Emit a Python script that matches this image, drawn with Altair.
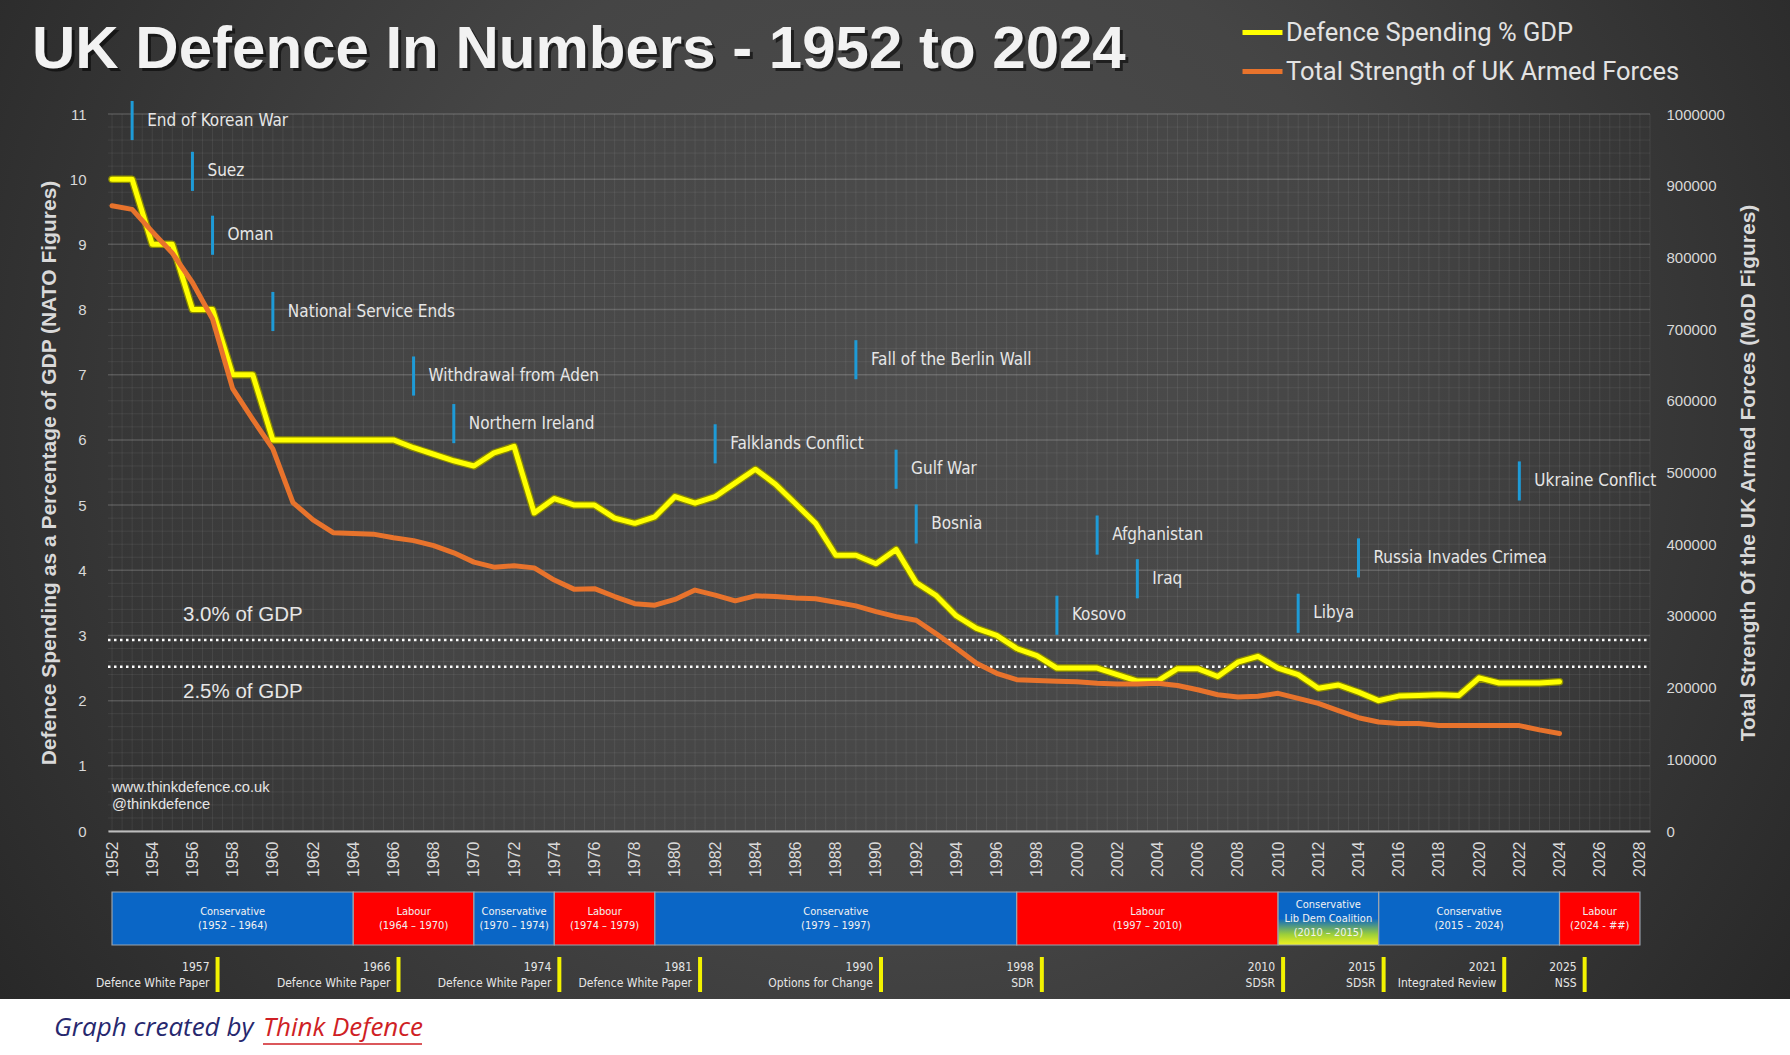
import altair as alt
import pandas as pd

# ---------------- data ----------------
years = list(range(1952, 2025))

gdp_pct = [10.0, 10.0, 9.0, 9.0, 8.0, 8.0, 7.0, 7.0, 6.0, 6.0,      # 1952-1961
           6.0, 6.0, 6.0, 6.0, 6.0, 5.88, 5.78, 5.68, 5.6, 5.8,     # 1962-1971
           5.9, 4.88, 5.1, 5.0, 5.0, 4.8, 4.72, 4.82, 5.13, 5.03,   # 1972-1981
           5.13, 5.34, 5.55, 5.32, 5.02, 4.72, 4.23, 4.23, 4.1, 4.32,  # 1982-1991
           3.81, 3.61, 3.3, 3.11, 3.0, 2.8, 2.69, 2.5, 2.5, 2.5,    # 1992-2001
           2.4, 2.3, 2.3, 2.49, 2.49, 2.37, 2.59, 2.68, 2.5, 2.4,   # 2002-2011
           2.19, 2.24, 2.13, 2.0, 2.07, 2.08, 2.09, 2.08, 2.35, 2.27,  # 2012-2021
           2.27, 2.27, 2.29]                                         # 2022-2024

armed_forces = [872000, 867000, 836000, 806000, 765000, 714000, 617000, 574000, 533000, 458000,
                434000, 416000, 415000, 414000, 409000, 405000, 398000, 388000, 375000, 368000,
                370000, 367000, 350000, 337000, 338000, 327000, 317000, 315000, 323000, 336000,
                329000, 321000, 328000, 327000, 325000, 324000, 319000, 314000, 306000, 299000,
                294000, 275000, 255000, 234000, 220000, 211000, 210000, 209000, 208000, 206000,
                205000, 205000, 206000, 203000, 197000, 190000, 187000, 188000, 192000, 185000,
                178000, 168000, 158000, 152000, 150000, 150000, 147000, 147000, 147000, 147000,
                147000, 141000, 136000]

series_names = ["Defence Spending % GDP", "Total Strength of UK Armed Forces"]

event_names = ["End of Korean War", "Suez", "Oman", "National Service Ends",
               "Withdrawal from Aden", "Northern Ireland", "Falklands Conflict",
               "Fall of the Berlin Wall", "Gulf War", "Bosnia", "Kosovo", "Afghanistan",
               "Iraq", "Libya", "Russia Invades Crimea", "Ukraine Conflict"]
event_years = [1953, 1956, 1957, 1960, 1967, 1969, 1982, 1989, 1991, 1992,
               1999, 2001, 2003, 2011, 2014, 2022]
# height (in % GDP axis units) at which each annotation label sits
event_label_level = [10.9, 10.12, 9.14, 7.97, 6.98, 6.25, 5.94, 7.23, 5.55, 4.71,
                     3.31, 4.54, 3.87, 3.34, 4.19, 5.37]

gov_party = ["Conservative", "Labour", "Conservative", "Labour", "Conservative",
             "Labour", "Coalition", "Conservative", "Labour"]
gov_label = ["Conservative\n(1952 – 1964)", "Labour\n(1964 – 1970)",
             "Conservative\n(1970 – 1974)", "Labour\n(1974 – 1979)",
             "Conservative\n(1979 – 1997)", "Labour\n(1997 – 2010)",
             "Conservative\nLib Dem Coalition\n(2010 – 2015)",
             "Conservative\n(2015 – 2024)", "Labour\n(2024 - ##)"]
gov_start = [1952, 1964, 1970, 1974, 1979, 1997, 2010, 2015, 2024]
gov_end = [1964, 1970, 1974, 1979, 1997, 2010, 2015, 2024, 2028]

wp_years = [1957, 1966, 1974, 1981, 1990, 1998, 2010, 2015, 2021, 2025]
wp_names = ["Defence White Paper", "Defence White Paper", "Defence White Paper",
            "Defence White Paper", "Options for Change", "SDR", "SDSR", "SDSR",
            "Integrated Review", "NSS"]

gdp_ref_levels = [2.93, 2.52]
gdp_ref_labels = ["3.0% of GDP", "2.5% of GDP"]

# ---------------- layout ----------------
W, H = 1542, 717
PAD_L, PAD_T, PAD_R, PAD_B = 108, 114, 140, 224
TOTAL_W, TOTAL_H = 1790, 1055
DARK_BOTTOM = 999 - PAD_T

COND = "'Liberation Sans Narrow', 'DejaVu Sans Condensed', 'Roboto Condensed', Roboto, sans-serif"
SANS = "'Liberation Sans', Arial, sans-serif"
TXT = "#e6e6e6"

xscale = alt.Scale(domain=[1951.8, 2028.5], nice=False, zero=False)
yscale = alt.Scale(domain=[0, 11], nice=False, zero=False)

xaxis = alt.Axis(values=list(range(1952, 2029, 2)), format="d", labelAngle=270,
                 labelFontSize=16, labelFont=SANS, labelColor="#d9d9d9", labelPadding=10,
                 ticks=False, grid=False, domainColor="#bdbdbd", domainWidth=2,
                 title=None, zindex=1)
yaxis = alt.Axis(values=list(range(0, 12)), format="d", labelFontSize=15, labelFont=SANS,
                 labelColor="#d9d9d9", labelPadding=22, ticks=False, domain=False, grid=False,
                 title="Defence Spending as a Percentage of GDP  (NATO Figures)",
                 titleFont=SANS, titleFontSize=21, titleFontWeight="bold", titleColor="#d9d9d9",
                 titleAngle=270, titleX=-59, titleY=H / 2, titleAlign="center",
                 titleBaseline="middle", zindex=1)
raxis = alt.Axis(orient="right", values=list(range(0, 1000001, 100000)), format="d",
                 labelFontSize=15, labelFont=SANS, labelColor="#d9d9d9", labelPadding=16,
                 ticks=False, domain=False, grid=False,
                 title="Total Strength Of the UK Armed Forces (MoD Figures)",
                 titleFont=SANS, titleFontSize=21, titleFontWeight="bold", titleColor="#d9d9d9",
                 titleAngle=270, titleX=98, titleY=H / 2, titleAlign="center",
                 titleBaseline="middle", zindex=1)

cscale = alt.Scale(domain=series_names, range=["#ffff00", "#e8732c"])
legend = alt.Legend(title=None, orient="none", legendX=1132, legendY=-104,
                    symbolType="stroke", symbolSize=1600, symbolStrokeWidth=5,
                    labelFontSize=25.5, labelFont="Roboto", labelColor="#e3e3e3",
                    labelOffset=1, rowPadding=3, padding=0, labelLimit=600)

def X(f):
    return alt.X(f, scale=xscale, axis=xaxis)

def Y(f):
    return alt.Y(f, scale=yscale, axis=yaxis)

one = pd.DataFrame({"k": [0]})
df = pd.DataFrame({"year": years, "gdp": gdp_pct, "strength": armed_forces})
ev = pd.DataFrame({"name": event_names, "year": event_years, "lvl": event_label_level})
gov = pd.DataFrame({"party": gov_party, "label": gov_label, "start": gov_start, "end": gov_end})
wp = pd.DataFrame({"year": wp_years, "name": wp_names})
ref = pd.DataFrame({"v": gdp_ref_levels, "label": gdp_ref_labels})
grid_minor_h = pd.DataFrame({"v": [round(i * 0.2, 1) for i in range(56) if i % 5 != 0]})
grid_major_h = pd.DataFrame({"v": list(range(0, 12))})
grid_v = pd.DataFrame({"v": [1952 + 0.5 * i for i in range(154)]})

# ---------------- background ----------------
bg = alt.Chart(one).mark_rect(
    fill=alt.RadialGradient(
        gradient="radial", x1=0.5, y1=0.45, r1=0, x2=0.5, y2=0.45, r2=0.62,
        stops=[alt.GradientStop(color="#4e4e4e", offset=0),
               alt.GradientStop(color="#454545", offset=0.45),
               alt.GradientStop(color="#262626", offset=1)])
).encode(x=alt.value(-PAD_L), x2=alt.value(TOTAL_W - PAD_L),
         y=alt.value(-PAD_T), y2=alt.value(DARK_BOTTOM))

gmh = alt.Chart(grid_minor_h).mark_rule(color="white", strokeOpacity=0.07, strokeWidth=1).encode(
    y=Y("v:Q"), x=alt.value(0), x2=alt.value(W))
gMh = alt.Chart(grid_major_h).mark_rule(color="white", strokeOpacity=0.17, strokeWidth=1.5).encode(
    y=Y("v:Q"), x=alt.value(0), x2=alt.value(W))
gv = alt.Chart(grid_v).mark_rule(color="white", strokeOpacity=0.07, strokeWidth=1).encode(
    x=X("v:Q"), y=alt.value(0), y2=alt.value(H))

# ---------------- reference lines ----------------
ref_lines = alt.Chart(ref).mark_rule(color="white", strokeWidth=2.5, strokeDash=[2.5, 3.5]).encode(
    y=Y("v:Q"), x=alt.value(0), x2=alt.value(W))
ref_top = alt.Chart(ref).transform_filter("datum.label == '3.0% of GDP'").mark_text(
    align="left", baseline="middle", dy=-25, fontSize=20.5, font=SANS, color=TXT).encode(
    x=alt.value(75), y=Y("v:Q"), text="label:N")
ref_bot = alt.Chart(ref).transform_filter("datum.label == '2.5% of GDP'").mark_text(
    align="left", baseline="middle", dy=25, fontSize=20.5, font=SANS, color=TXT).encode(
    x=alt.value(75), y=Y("v:Q"), text="label:N")

# ---------------- events ----------------
ev_rule = alt.Chart(ev).transform_calculate(lo="datum.lvl - 0.3", hi="datum.lvl + 0.3").mark_rule(
    color="#1e9bd7", strokeWidth=3).encode(x=X("year:Q"), y=Y("lo:Q"), y2="hi:Q")
ev_text = alt.Chart(ev).mark_text(align="left", baseline="middle", dx=15, fontSize=17,
                                  font=COND, color=TXT).encode(
    x=X("year:Q"), y=Y("lvl:Q"), text="name:N")

# ---------------- governments ----------------
gov_rect = alt.Chart(gov).transform_filter("datum.party != 'Coalition'").mark_rect(
    stroke="#9aa3ad", strokeWidth=1.2).encode(
    x=X("start:Q"), x2="end:Q", y=alt.value(778), y2=alt.value(831),
    fill=alt.Fill("party:N", scale=alt.Scale(domain=["Conservative", "Labour"],
                                             range=["#0a66c6", "#ff0000"]), legend=None))
gov_coal = alt.Chart(gov).transform_filter("datum.party == 'Coalition'").mark_rect(
    stroke="#9aa3ad", strokeWidth=1.2,
    fill=alt.LinearGradient(gradient="linear", x1=0, y1=0, x2=0, y2=1,
                            stops=[alt.GradientStop(color="#0a66c6", offset=0),
                                   alt.GradientStop(color="#0a66c6", offset=0.5),
                                   alt.GradientStop(color="#9ccf3a", offset=0.8),
                                   alt.GradientStop(color="#f2f21e", offset=1)])).encode(
    x=X("start:Q"), x2="end:Q", y=alt.value(778), y2=alt.value(831))
gov_text2 = alt.Chart(gov).transform_filter("datum.party != 'Coalition'").transform_calculate(
    mid="(datum.start + datum.end) / 2").mark_text(
    align="center", baseline="middle", lineBreak="\n", lineHeight=14, fontSize=11,
    font=COND, color="#f2f2f2").encode(x=X("mid:Q"), y=alt.value(798), text="label:N")
gov_text3 = alt.Chart(gov).transform_filter("datum.party == 'Coalition'").transform_calculate(
    mid="(datum.start + datum.end) / 2").mark_text(
    align="center", baseline="middle", lineBreak="\n", lineHeight=14, fontSize=11,
    font=COND, color="#f2f2f2").encode(x=X("mid:Q"), y=alt.value(791), text="label:N")

# ---------------- white papers ----------------
wp_rule = alt.Chart(wp).transform_calculate(xm="datum.year + 0.25").mark_rule(
    color="#f2f200", strokeWidth=4).encode(x=X("xm:Q"), y=alt.value(843), y2=alt.value(878))
wp_year = alt.Chart(wp).transform_calculate(xm="datum.year + 0.25").mark_text(
    align="right", baseline="middle", dx=-8, fontSize=12, font=COND, color=TXT).encode(
    x=X("xm:Q"), y=alt.value(853), text=alt.Text("year:Q", format="d"))
wp_name = alt.Chart(wp).transform_calculate(xm="datum.year + 0.25").mark_text(
    align="right", baseline="middle", dx=-8, fontSize=12, font=COND, color=TXT).encode(
    x=X("xm:Q"), y=alt.value(869), text="name:N")

# ---------------- watermark, title, footer ----------------
wm1 = alt.Chart(one).mark_text(align="left", baseline="middle", fontSize=14.7, font=SANS,
                               color=TXT, text="www.thinkdefence.co.uk").encode(
    x=alt.value(4), y=alt.value(674))
wm2 = alt.Chart(one).mark_text(align="left", baseline="middle", fontSize=14.7, font=SANS,
                               color=TXT, text="@thinkdefence").encode(
    x=alt.value(4), y=alt.value(691))
TITLE = "UK Defence In Numbers - 1952 to 2024"
title_shadow = alt.Chart(one).mark_text(align="left", baseline="alphabetic", fontSize=60,
                                        font=SANS, fontWeight="bold", color="#000000",
                                        opacity=0.55, text=TITLE).encode(
    x=alt.value(-73), y=alt.value(-43))
title = alt.Chart(one).mark_text(align="left", baseline="alphabetic", fontSize=60,
                                 font=SANS, fontWeight="bold", color="#f2f2f2",
                                 text=TITLE).encode(x=alt.value(-76), y=alt.value(-46))
foot1 = alt.Chart(one).mark_text(align="left", baseline="middle", fontSize=26,
                                 font="'Open Sans', sans-serif", fontStyle="italic",
                                 color="#27286e", text="Graph created by").encode(
    x=alt.value(-54), y=alt.value(914))
foot2 = alt.Chart(one).mark_text(align="left", baseline="middle", fontSize=26,
                                 font="'Open Sans', sans-serif", fontStyle="italic",
                                 color="#cf1f25", text="Think Defence").encode(
    x=alt.value(155), y=alt.value(914))
foot_ul = alt.Chart(one).mark_rule(color="#cf1f25", strokeWidth=1.5).encode(
    x=alt.value(155), x2=alt.value(314), y=alt.value(930))

# ---------------- data lines ----------------
yellow_edge = alt.Chart(df).mark_line(color="#8a8a00", strokeWidth=7.5, strokeJoin="round",
                                      strokeCap="round").encode(x=X("year:Q"), y=Y("gdp:Q"))
yellow = alt.Chart(df).transform_calculate(series="'Defence Spending % GDP'").mark_line(
    strokeWidth=5, strokeJoin="round", strokeCap="round").encode(
    x=X("year:Q"), y=Y("gdp:Q"),
    color=alt.Color("series:N", scale=cscale, legend=legend))
orange = alt.Chart(df).transform_calculate(series="'Total Strength of UK Armed Forces'").mark_line(
    strokeWidth=5, strokeJoin="round", strokeCap="round").encode(
    x=X("year:Q"),
    y=alt.Y("strength:Q", scale=alt.Scale(domain=[0, 1000000], nice=False, zero=False), axis=raxis),
    color=alt.Color("series:N", scale=cscale, legend=legend))

left = alt.layer(bg, gv, gmh, gMh, ref_lines, ref_top, ref_bot, gov_rect, gov_coal,
                 gov_text2, gov_text3, wp_rule, wp_year, wp_name, ev_rule, ev_text, wm1, wm2,
                 title_shadow, title, foot1, foot2, foot_ul, yellow_edge, yellow)

chart = alt.layer(left, orange).resolve_scale(y="independent").properties(
    width=W, height=H, autosize="none",
    padding={"left": PAD_L, "top": PAD_T, "right": PAD_R, "bottom": PAD_B},
).configure(background="#ffffff").configure_view(strokeWidth=0)

chart.save("out.html", embed_options={"renderer": "svg", "actions": False})
